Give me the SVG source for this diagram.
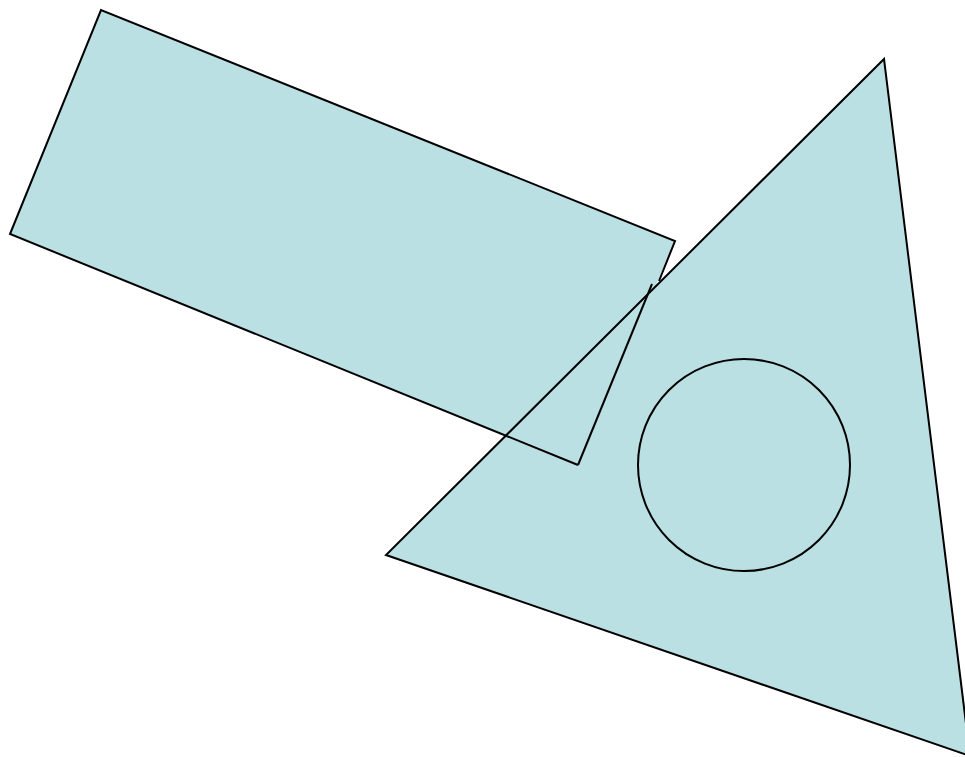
<svg xmlns="http://www.w3.org/2000/svg" width="965" height="757" viewBox="0 0 965 757">
<style>
.fill{fill:#BBE0E3;stroke:none}
.edge{fill:none;stroke:#000;stroke-width:2;stroke-linejoin:miter}
</style>
<rect width="965" height="757" fill="#fff"/>
<g id="fills">
<polygon class="fill" points="101,10 675,241 578,465 10,234"/>
<polygon class="fill" points="884,59 386,555 970,756"/>
</g>
<g id="rectangle">
<polyline class="edge" points="659,281 675,241 101,10 10,234 578,465"/>
<polyline class="edge" points="652,284 578,465"/>
</g>
<g id="triangle">
<polygon class="edge" points="884,59 386,555 970,756"/>
</g>
<g id="circle">
<circle class="edge" cx="744" cy="465" r="106"/>
</g>
</svg>
